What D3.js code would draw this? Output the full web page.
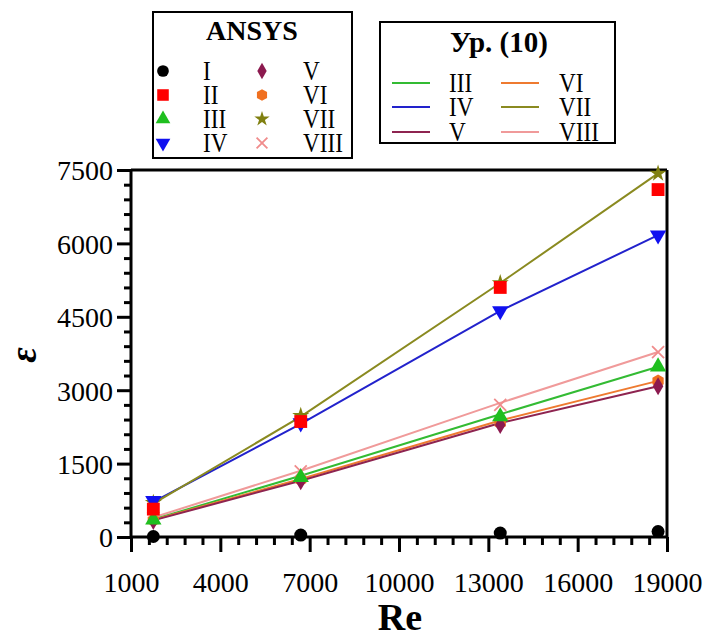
<!DOCTYPE html>
<html>
<head>
<meta charset="utf-8">
<script src="https://cdn.jsdelivr.net/npm/d3@7"></script>
<style>
  html, body { margin: 0; padding: 0; background: #fff; }
  svg { display: block; }
  text { font-family: "Liberation Serif", "Times New Roman", serif; fill: #000; }
</style>
</head>
<body>
<div id="chart"></div>
<script>
// ---------------- data ----------------
const reValues = [1750, 6700, 13400, 18700];
const xTicks = [1000, 4000, 7000, 10000, 13000, 16000, 19000];
const yTicks = [0, 1500, 3000, 4500, 6000, 7500];

const seriesNames = ["I", "II", "III", "IV", "V", "VI", "VII", "VIII"];
// ANSYS results (markers)
const ansysI    = [10, 40, 80, 110];
const ansysII   = [570, 2360, 5100, 7100];
const ansysIII  = [350, 1220, 2460, 3480];
const ansysIV   = [740, 2330, 4620, 6170];
const ansysV    = [330, 1140, 2290, 3080];
const ansysVI   = [340, 1170, 2330, 3190];
const ansysVII  = [700, 2480, 5190, 7430];
const ansysVIII = [390, 1340, 2700, 3780];
// Eq. (10) results (lines)
const eqIII  = [360, 1250, 2510, 3480];
const eqIV   = [720, 2310, 4620, 6170];
const eqV    = [340, 1150, 2330, 3080];
const eqVI   = [350, 1185, 2380, 3190];
const eqVII  = [680, 2460, 5190, 7430];
const eqVIII = [400, 1355, 2740, 3780];

const colors = {
  I: "#000000", II: "#ff0000", III: "#1fbf1f", IV: "#1010f0",
  V: "#8c1a4f", VI: "#f07020", VII: "#808010", VIII: "#f08c8c"
};
const lineColors = {
  III: "#33bb33", IV: "#2222cc", V: "#8e2450", VI: "#ee7a30", VII: "#8a8a20", VIII: "#f09a9a"
};

const ansys = { I: ansysI, II: ansysII, III: ansysIII, IV: ansysIV, V: ansysV, VI: ansysVI, VII: ansysVII, VIII: ansysVIII };
const eq = { III: eqIII, IV: eqIV, V: eqV, VI: eqVI, VII: eqVII, VIII: eqVIII };

// ---------------- layout ----------------
const W = 707, H = 637;
const pL = 131, pR = 667, pT = 170, pB = 537;

const svg = d3.select("#chart").append("svg").attr("width", W).attr("height", H);

const x = d3.scaleLinear().domain([1000, 19000]).range([pL, pR]);
const y = d3.scaleLinear().domain([0, 7500]).range([pB, pT]);

// minor ticks
const xMinor = d3.range(1000, 19001, 600).filter(v => !xTicks.includes(v));
const yMinor = d3.range(0, 7501, 300).filter(v => !yTicks.includes(v));

// frame top/right
svg.append("line").attr("x1", pL).attr("x2", pR).attr("y1", pT).attr("y2", pT)
  .attr("stroke", "#000").attr("stroke-width", 3);
svg.append("line").attr("x1", pR).attr("x2", pR).attr("y1", pT).attr("y2", pB)
  .attr("stroke", "#000").attr("stroke-width", 3);

// axes
const xAxis = svg.append("g").attr("transform", `translate(0,${pB})`)
  .call(d3.axisBottom(x).tickValues(xTicks).tickSize(15).tickPadding(20).tickFormat(d3.format("d")));
const xAxisMinor = svg.append("g").attr("transform", `translate(0,${pB})`)
  .call(d3.axisBottom(x).tickValues(xMinor).tickSize(8).tickFormat(""));
const yAxis = svg.append("g").attr("transform", `translate(${pL},0)`)
  .call(d3.axisLeft(y).tickValues(yTicks).tickSize(14).tickPadding(4).tickFormat(d3.format("d")));
const yAxisMinor = svg.append("g").attr("transform", `translate(${pL},0)`)
  .call(d3.axisLeft(y).tickValues(yMinor).tickSize(7).tickFormat(""));

[xAxis, xAxisMinor, yAxis, yAxisMinor].forEach(g => {
  g.select(".domain").attr("stroke", "#000").attr("stroke-width", 3);
  g.selectAll(".tick line").attr("stroke", "#000").attr("stroke-width", 3);
  g.selectAll("text").attr("font-family", "Liberation Serif").attr("font-size", 28).attr("fill", "#000");
});
xAxis.selectAll(".domain").attr("d", `M${pL},0H${pR}`);
yAxis.selectAll(".domain").attr("d", `M0,${pB}V${pT}`);
xAxisMinor.select(".domain").remove();
yAxisMinor.select(".domain").remove();
yAxis.selectAll("text").attr("dy", "0.35em");

// axis titles
svg.append("text").attr("x", 400).attr("y", 630).attr("text-anchor", "middle")
  .attr("font-size", 38).attr("font-weight", "bold").text("Re");
svg.append("text").attr("transform", "translate(36,355) rotate(-90)").attr("text-anchor", "middle")
  .attr("font-size", 38).attr("font-weight", "bold").attr("font-style", "italic").text("ε");

// ---------------- lines ----------------
const line = d3.line().x((d, i) => x(reValues[i])).y(d => y(d));
const lineOrder = ["VIII", "III", "VI", "V", "IV", "VII"];
svg.append("g").selectAll("path").data(lineOrder).join("path")
  .attr("d", k => line(eq[k]))
  .attr("fill", "none").attr("stroke", k => lineColors[k]).attr("stroke-width", 2);

// ---------------- markers ----------------
function hexPath(r) {
  const pts = d3.range(6).map(i => {
    const a = Math.PI / 6 + i * Math.PI / 3;
    return [r * Math.cos(a), r * Math.sin(a)];
  });
  return "M" + pts.map(p => p.join(",")).join("L") + "Z";
}
function drawMarker(g, key, cx, cy, scale) {
  const s = scale || 1;
  const t = `translate(${cx},${cy})`;
  const c = colors[key];
  switch (key) {
    case "I":
      g.append("circle").attr("cx", cx).attr("cy", cy).attr("r", 6.5 * s).attr("fill", c); break;
    case "II":
      g.append("path").attr("transform", t).attr("d", d3.symbol(d3.symbolSquare, 165 * s * s)()).attr("fill", c); break;
    case "III":
      g.append("path").attr("transform", t).attr("d", d3.symbol(d3.symbolTriangle, 115 * s * s)()).attr("fill", c); break;
    case "IV":
      g.append("path").attr("transform", t + " rotate(180)").attr("d", d3.symbol(d3.symbolTriangle, 115 * s * s)()).attr("fill", c); break;
    case "V":
      g.append("path").attr("transform", t).attr("d", d3.symbol(d3.symbolDiamond, 95 * s * s)()).attr("fill", c); break;
    case "VI":
      g.append("path").attr("transform", t).attr("d", hexPath(6.5 * s)).attr("fill", c); break;
    case "VII":
      g.append("path").attr("transform", t).attr("d", d3.symbol(d3.symbolStar, 90 * s * s)()).attr("fill", c); break;
    case "VIII":
      g.append("path").attr("transform", t)
        .attr("d", `M${-6 * s},${-6 * s}L${6 * s},${6 * s}M${-6 * s},${6 * s}L${6 * s},${-6 * s}`)
        .attr("stroke", c).attr("stroke-width", 1.8).attr("fill", "none"); break;
  }
}
const markerOrder = ["VII", "VIII", "VI", "V", "III", "IV", "II", "I"];
const mg = svg.append("g");
markerOrder.forEach(k => {
  ansys[k].forEach((v, i) => drawMarker(mg, k, x(reValues[i]), y(v)));
});

// ---------------- legends ----------------
// ANSYS legend
const L1 = svg.append("g");
L1.append("rect").attr("x", 153).attr("y", 12).attr("width", 199).attr("height", 146)
  .attr("fill", "#fff").attr("stroke", "#000").attr("stroke-width", 2);
L1.append("text").attr("x", 252).attr("y", 40).attr("text-anchor", "middle")
  .attr("font-size", 28).attr("font-weight", "bold").text("ANSYS");
const rowY = [71, 95, 119, 143];
seriesNames.forEach((k, i) => {
  const col = Math.floor(i / 4), row = i % 4;
  const mx = col === 0 ? 163 : 262;
  const lx = col === 0 ? 203 : 303;
  drawMarker(L1, k, mx, rowY[row], 0.9);
  L1.append("text").attr("transform", `translate(${lx},${rowY[row] + 9}) scale(0.86,1)`)
    .attr("font-size", 27).text(k);
});

// Eq. (10) legend
const L2 = svg.append("g");
L2.append("rect").attr("x", 380).attr("y", 22).attr("width", 235).attr("height", 121)
  .attr("fill", "#fff").attr("stroke", "#000").attr("stroke-width", 2);
L2.append("text").attr("x", 499).attr("y", 52).attr("text-anchor", "middle")
  .attr("font-size", 29).attr("font-weight", "bold").text("Ур. (10)");
const eqNames = ["III", "IV", "V", "VI", "VII", "VIII"];
const rowY2 = [83, 107, 132];
eqNames.forEach((k, i) => {
  const col = Math.floor(i / 3), row = i % 3;
  const x1 = col === 0 ? 392 : 501;
  const lx = col === 0 ? 449 : 559;
  L2.append("line").attr("x1", x1).attr("x2", x1 + 38).attr("y1", rowY2[row]).attr("y2", rowY2[row])
    .attr("stroke", lineColors[k]).attr("stroke-width", 2);
  L2.append("text").attr("transform", `translate(${lx},${rowY2[row] + 9}) scale(0.86,1)`)
    .attr("font-size", 27).text(k);
});
</script>
</body>
</html>
